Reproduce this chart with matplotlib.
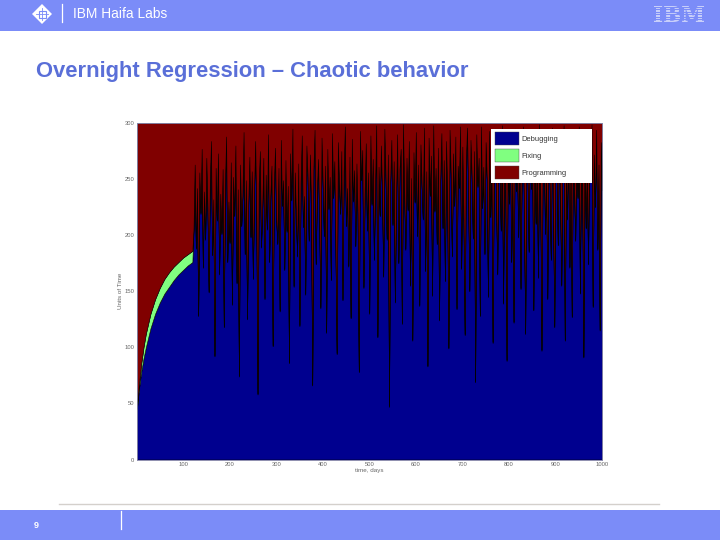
#!/usr/bin/env python3
"""Slide with stacked effort areas: debugging / fixing / programming over days."""
import matplotlib
matplotlib.use("Agg")
import matplotlib.pyplot as plt
import numpy as np
from matplotlib.patches import Patch, Polygon, Rectangle

plt.rcParams["font.family"] = ["Liberation Sans", "DejaVu Sans"]

BAR = "#7b8cf8"
TITLE = "#5a6fd8"
COLORS = ["#00008f", "#80ff80", "#800000"]
LABELS = ["Debugging", "Fixing", "Programming"]

# smooth ramp-up before the chaos starts
days_early = [1, 5, 10, 15, 20, 30, 40, 50, 60, 70, 80, 90, 100, 110, 120]
debug_early = [45, 62, 78, 90, 100, 117, 130, 140, 148, 154, 160, 165, 169, 173, 176]
fix_early = [2, 4, 7, 10, 12, 13, 13, 13, 13, 13, 12, 11, 11, 10, 10]
prog_early = [253, 234, 215, 200, 188, 170, 157, 147, 139, 133, 128, 124, 120, 117, 114]

# chaotic part, one value every 2.5 days from day 122.5
debug_late = [
    205, 262, 188, 241, 128, 255, 219, 276, 171, 238,
    196, 268, 224, 149, 247, 283, 182, 231, 92, 259,
    213, 272, 165, 236, 201, 258, 118, 244, 287, 176,
    229, 193, 264, 138, 251, 217, 279, 157, 240, 74,
    262, 208, 234, 291, 183, 248, 125, 226, 269, 198,
    256, 161, 237, 283, 212, 58, 245, 274, 189, 222,
    268, 143, 253, 205, 289, 176, 235, 261, 101, 242,
    277, 215, 192, 259, 132, 284, 226, 248, 169, 266,
    203, 243, 86, 272, 231, 294, 154, 255, 218, 181,
    263, 119, 246, 288, 207, 234, 147, 279, 252, 195,
    271, 228, 66, 258, 293, 174, 239, 267, 212, 135,
    286, 244, 199, 261, 113, 276, 223, 251, 160, 290,
    233, 265, 184, 94, 282, 247, 219, 274, 142, 256,
    296, 208, 241, 172, 269, 126, 285, 230, 257, 190,
    263, 218, 78, 292, 249, 275, 153, 236, 281, 204,
    255, 130, 288, 227, 267, 178, 243, 297, 109, 260,
    217, 279, 238, 163, 294, 252, 196, 271, 47, 246,
    284, 209, 265, 140, 232, 289, 175, 258, 276, 121,
    298, 240, 187, 268, 222, 283, 155, 250, 106, 273,
    229, 291, 199, 262, 137, 280, 244, 214, 295, 168,
    256, 83, 286, 235, 270, 146, 297, 221, 259, 192,
    277, 124, 248, 290, 206, 266, 159, 283, 238, 99,
    293, 254, 181, 272, 226, 287, 134, 261, 242, 296,
    170, 278, 213, 111, 265, 295, 237, 150, 284, 252,
    197, 274, 69, 289, 243, 268, 128, 296, 224, 260,
    183, 282, 249, 145, 292, 216, 271, 104, 257, 294,
    231, 165, 286, 263, 204, 297, 139, 275, 246, 88,
    283, 228, 291, 176, 258, 122, 294, 239, 270, 198,
    288, 152, 264, 296, 219, 112, 279, 253, 185, 293,
    241, 276, 133, 285, 210, 267, 162, 298, 235, 97,
    272, 290, 201, 254, 143, 287, 247, 178, 295, 222,
    118, 281, 261, 191, 294, 236, 155, 273, 297, 106,
    259, 214, 289, 171, 268, 127, 292, 243, 195, 284,
    233, 296, 148, 277, 255, 91, 290, 206, 265, 174,
    286, 248, 298, 136, 271, 225, 293, 187, 262, 115,
    282, 240,
]
fix_late = [
    1, 1, 1, 1, 1, 1, 1, 1, 1, 1,
    1, 1, 1, 1, 1, 1, 1, 1, 1, 1,
    1, 1, 1, 1, 1, 1, 1, 1, 1, 1,
    1, 1, 1, 1, 1, 1, 1, 1, 1, 1,
    1, 1, 1, 1, 1, 1, 1, 1, 1, 1,
    1, 1, 1, 1, 1, 1, 1, 1, 1, 1,
    1, 1, 1, 1, 1, 1, 1, 1, 1, 1,
    1, 1, 1, 1, 1, 1, 1, 1, 1, 1,
    1, 1, 1, 1, 1, 1, 1, 1, 1, 1,
    1, 1, 1, 1, 1, 1, 1, 1, 1, 1,
    1, 1, 1, 1, 1, 1, 1, 1, 1, 1,
    1, 1, 1, 1, 1, 1, 1, 1, 1, 1,
    1, 1, 1, 1, 1, 1, 1, 1, 1, 1,
    1, 1, 1, 1, 1, 1, 1, 1, 1, 1,
    1, 1, 1, 1, 1, 1, 1, 1, 1, 1,
    1, 1, 1, 1, 1, 1, 1, 1, 1, 1,
    1, 1, 1, 1, 1, 1, 1, 1, 1, 1,
    1, 1, 1, 1, 1, 1, 1, 1, 1, 1,
    1, 1, 1, 1, 1, 1, 1, 1, 1, 1,
    1, 1, 1, 1, 1, 1, 1, 1, 1, 1,
    1, 1, 1, 1, 1, 1, 1, 1, 1, 1,
    1, 1, 1, 1, 1, 1, 1, 1, 1, 1,
    1, 1, 1, 1, 1, 1, 1, 1, 1, 1,
    1, 1, 1, 1, 1, 1, 1, 1, 1, 1,
    1, 1, 1, 1, 1, 1, 1, 1, 1, 1,
    1, 1, 1, 1, 1, 1, 1, 1, 1, 1,
    1, 1, 1, 1, 1, 1, 1, 1, 1, 1,
    1, 1, 1, 1, 1, 1, 1, 1, 1, 1,
    1, 1, 1, 1, 1, 1, 1, 1, 1, 1,
    1, 1, 1, 1, 1, 1, 1, 1, 1, 1,
    1, 1, 1, 1, 1, 1, 1, 1, 1, 1,
    1, 1, 1, 1, 1, 1, 1, 1, 1, 1,
    1, 1, 1, 1, 1, 1, 1, 1, 1, 1,
    1, 1, 1, 1, 1, 1, 1, 1, 1, 1,
    1, 1, 1, 1, 1, 1, 1, 1, 1, 1,
    1, 1,
]
prog_late = [
    94, 37, 111, 58, 171, 44, 80, 23, 128, 61,
    103, 31, 75, 150, 52, 16, 117, 68, 207, 40,
    86, 27, 134, 63, 98, 41, 181, 55, 12, 123,
    70, 106, 35, 161, 48, 82, 20, 142, 59, 225,
    37, 91, 65, 8, 116, 51, 174, 73, 30, 101,
    43, 138, 62, 16, 87, 241, 54, 25, 110, 77,
    31, 156, 46, 94, 10, 123, 64, 38, 198, 57,
    22, 84, 107, 40, 167, 15, 73, 51, 130, 33,
    96, 56, 213, 27, 68, 5, 145, 44, 81, 118,
    36, 180, 53, 11, 92, 65, 152, 20, 47, 104,
    28, 71, 233, 41, 6, 125, 60, 32, 87, 164,
    13, 55, 100, 38, 186, 23, 76, 48, 139, 9,
    66, 34, 115, 205, 17, 52, 80, 25, 157, 43,
    3, 91, 58, 127, 30, 173, 14, 69, 42, 109,
    36, 81, 221, 7, 50, 24, 146, 63, 18, 95,
    44, 169, 11, 72, 32, 121, 56, 2, 190, 39,
    82, 20, 61, 136, 5, 47, 103, 28, 252, 53,
    15, 90, 34, 159, 67, 10, 124, 41, 23, 178,
    1, 59, 112, 31, 77, 16, 144, 49, 193, 26,
    70, 8, 100, 37, 162, 19, 55, 85, 4, 131,
    43, 216, 13, 64, 29, 153, 2, 78, 40, 107,
    22, 175, 51, 9, 93, 33, 140, 16, 61, 200,
    6, 45, 118, 27, 73, 12, 165, 38, 57, 3,
    129, 21, 86, 188, 34, 4, 62, 149, 15, 47,
    102, 25, 230, 10, 56, 31, 171, 3, 75, 39,
    116, 17, 50, 154, 7, 83, 28, 195, 42, 5,
    68, 134, 13, 36, 95, 2, 160, 24, 53, 211,
    16, 71, 8, 123, 41, 177, 5, 60, 29, 101,
    11, 147, 35, 3, 80, 187, 20, 46, 114, 6,
    58, 23, 166, 14, 89, 32, 137, 1, 64, 202,
    27, 9, 98, 45, 156, 12, 52, 121, 4, 77,
    181, 18, 38, 108, 5, 63, 144, 26, 2, 193,
    40, 85, 10, 128, 31, 172, 7, 56, 104, 15,
    66, 3, 151, 22, 44, 208, 9, 93, 34, 125,
    13, 51, 1, 163, 28, 74, 6, 112, 37, 184,
    17, 59,
]

x_ticks = [100, 200, 300, 400, 500, 600, 700, 800, 900, 1000]
y_ticks = [0, 50, 100, 150, 200, 250, 300]

days = np.concatenate([days_early, np.arange(122.5, 1000.1, 2.5)])
debugging = np.array(debug_early + debug_late)
fixing = np.array(fix_early + fix_late)
programming = np.array(prog_early + prog_late)

fig = plt.figure(figsize=(7.2, 5.4), dpi=100, facecolor="white")

# slide furniture, in pixel coordinates
bg = fig.add_axes([0, 0, 1, 1])
bg.set_xlim(0, 720); bg.set_ylim(540, 0); bg.axis("off")
bg.add_patch(Rectangle((0, 0), 720, 30.5, color=BAR, lw=0))
bg.add_patch(Rectangle((0, 510), 720, 30, color=BAR, lw=0))
bg.plot([59, 659], [504, 504], color="#d4d0cc", lw=1)
bg.plot([62, 62], [4, 22], color="white", lw=0.9)
bg.plot([120.5, 120.5], [511, 529], color="white", lw=0.9)
bg.text(73, 14.5, "IBM Haifa Labs", color="white", fontsize=9.9, va="center")
bg.text(36, 71, "Overnight Regression – Chaotic behavior", color=TITLE,
        fontsize=15.8, fontweight="bold", va="center")
bg.text(36.5, 525, "9", color="white", fontsize=6.5, fontweight="bold",
        ha="center", va="center")

# navigation diamond
bg.add_patch(Polygon([(42, 4), (52, 14), (42, 24), (32, 14)], color="white", lw=0))
bg.add_patch(Rectangle((38.5, 10.5), 7, 7, fill=False, ec=BAR, lw=0.8))
bg.plot([42, 42], [8, 20], color=BAR, lw=0.6)
bg.plot([36, 48], [14, 14], color=BAR, lw=0.6)

# striped IBM mark
bg.text(679, 15.5, "IBM", color="#cdd3fb", fontsize=15.5, fontweight="bold",
        family="DejaVu Serif", ha="center", va="center")
for yy in np.arange(6.5, 26, 2.5):
    bg.plot([650, 708], [yy, yy], color=BAR, lw=0.8, zorder=5)

# chart
ax = fig.add_axes([136.5 / 720, 1 - 459.5 / 540, 465.5 / 720, 336.5 / 540])
ax.stackplot(days, debugging, fixing, programming, colors=COLORS,
             edgecolor="black", linewidth=0.4)
ax.set_xlim(0, 1000)
ax.set_ylim(0, 300)
ax.set_xticks(x_ticks)
ax.set_yticks(y_ticks)
ax.tick_params(labelsize=4.2, length=0, pad=1.5, colors="#666666")
for sp in ax.spines.values():
    sp.set_color("#8a8ab0"); sp.set_linewidth(0.6)
ax.set_xlabel("time, days", fontsize=4.5, color="#666666", labelpad=1)
ax.set_ylabel("Units of Time", fontsize=4.5, color="#666666", labelpad=1)

# legend box is wider than its entries, so the white panel is drawn separately
ax.add_patch(Rectangle((491, 129), 101, 53.5, transform=bg.transData,
                       facecolor="white", edgecolor="none", zorder=4))
handles = [Patch(facecolor=c, edgecolor="#444444", lw=0.3) for c in COLORS]
leg = ax.legend(handles, LABELS, loc="upper left", bbox_to_anchor=(495, 132),
                bbox_transform=bg.transData, fontsize=5.4, frameon=False,
                borderaxespad=0, borderpad=0, handlelength=3.2,
                handleheight=2.29, handletextpad=0.35, labelspacing=0.53)
leg.set_zorder(5)
for t in leg.get_texts():
    t.set_color("#333333")

fig.savefig("out.png", dpi=100)
